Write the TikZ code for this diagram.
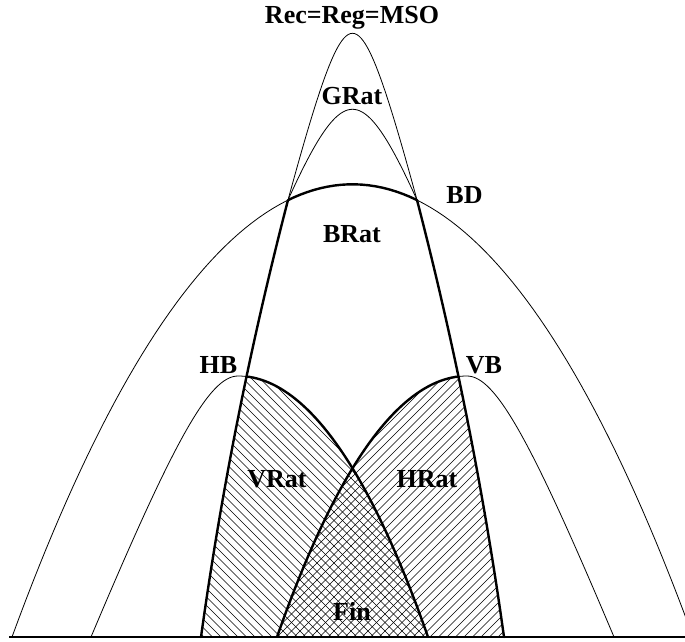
\documentclass[tikz,border=0pt]{standalone}
\usepackage{fontspec}
\setmainfont{Liberation Serif}
\usepackage{tikz}

% curves, in picture units (1pt, y pointing down)
\newcommand\RecPath{plot[domain=-64.5:64.5, samples=61] ({352.5+\x}, {33.3+121.6*(sqrt(1+(\x/30)^2)-1)})}
\newcommand\GRatPath{plot[domain=-64.5:64.5, samples=61] ({352.5+\x}, {109.3+121.3*(sqrt(1+(\x/45)^2)-1)})}
\newcommand\BDPath{plot[domain=-340.5:345, samples=101] ({352.5+\x}, {184.3+37.97*(\x/100)^2+0.0927*(\x/100)^4})}
\newcommand\HBPath{(91,637) .. controls (174,440) and (209.5,376) .. (238,376)
  -- plot[domain=0:190, samples=50] ({238+\x}, {376+69.3*(\x/100)^2+0.83*(\x/100)^4})}
\newcommand\VBPath{(614,637) .. controls (531,440) and (495.5,376) .. (467,376)
  -- plot[domain=0:190, samples=50] ({467-\x}, {376+69.3*(\x/100)^2+0.83*(\x/100)^4})}
\newcommand\BRatLeft{plot[domain=0:437, samples=50] ({288-0.25931*\x+1.3783*(\x/100)^2}, {200+\x})}
\newcommand\BRatRight{plot[domain=0:437, samples=50] ({417+0.25931*(437-\x)-1.3783*((437-\x)/100)^2}, {637-\x})}
\newcommand\BRatRegion{\BRatLeft
  -- plot[domain=0:437, samples=50] ({417+0.25931*(437-\x)-1.3783*((437-\x)/100)^2}, {637-\x}) -- cycle}

\begin{document}
\begin{tikzpicture}[
  x=1pt, y=-1pt,
  thinline/.style ={line width=0.8pt},
  thickline/.style={line width=2.4pt, line cap=round, line join=round},
  hatchline/.style={line width=0.5pt},
  lbl/.style      ={font=\fontsize{26}{30}\selectfont\bfseries, inner sep=0pt, anchor=base},
]
\useasboundingbox (0,0) rectangle (685,642);

% ---- hatched regions inside BRat -------------------------------------------
\begin{scope}
  \clip \BRatRegion;
  \begin{scope}
    \clip \HBPath -- cycle;
    \foreach \i in {-80,-71.5,...,440}
      \draw[hatchline] (\i,370) -- ++(272,272);
  \end{scope}
  \begin{scope}
    \clip \VBPath -- cycle;
    \foreach \i in {0,8.5,...,520}
      \draw[hatchline] (\i,642) -- ++(272,-272);
  \end{scope}
\end{scope}

% ---- thin curves ------------------------------------------------------------
\draw[thinline] \RecPath;
\draw[thinline] \GRatPath;
\draw[thinline] \BDPath;
\draw[thinline] \HBPath;
\draw[thinline] \VBPath;

% ---- thick borders ----------------------------------------------------------
\begin{scope}
  \clip (288,150) rectangle (417,230);
  \draw[thickline] \BDPath;
\end{scope}
\begin{scope}
  \clip \BRatRegion;
  \draw[thickline] \HBPath;
  \draw[thickline] \VBPath;
\end{scope}
\draw[thickline] \BRatLeft;
\draw[thickline] \BRatRight;

% base line
\draw[line width=1.2pt] (9,637) -- (685,637);

% ---- labels -----------------------------------------------------------------
\node[lbl] (rec)  at (352,24)    {Rec=Reg=MSO};
\node[lbl] (grat) at (352,104)   {GRat};
\node[lbl] (bd)   at (464.5,203) {BD};
\node[lbl] (brat) at (352,242)   {BRat};
\node[lbl] (hb)   at (218.5,373) {HB};
\node[lbl] (vb)   at (484,373)   {VB};
\node[lbl] (vrat) at (277,487)   {VRat};
\node[lbl] (hrat) at (427,487)   {HRat};
\node[lbl] (fin)  at (352,620)   {Fin};
\end{tikzpicture}
\end{document}
